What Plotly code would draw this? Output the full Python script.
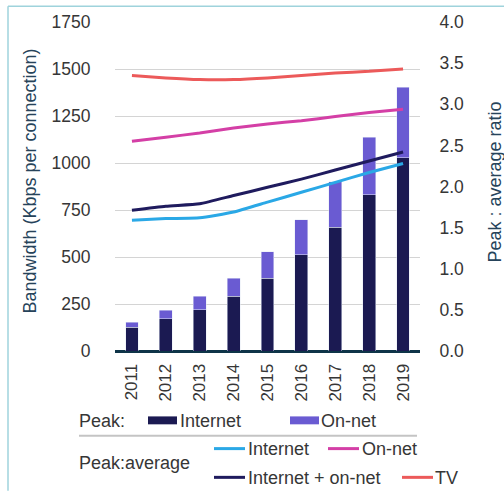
import plotly.graph_objects as go

years = ["2011", "2012", "2013", "2014", "2015", "2016", "2017", "2018", "2019"]
peak_internet = [126, 172, 220, 291, 388, 511, 659, 831, 1029]
peak_total = [154, 218, 290, 388, 527, 699, 901, 1138, 1403]
peak_onnet = [t - i for t, i in zip(peak_total, peak_internet)]

ratio_internet = [1.59, 1.61, 1.62, 1.69, 1.81, 1.93, 2.05, 2.17, 2.28]
ratio_onnet = [2.55, 2.60, 2.65, 2.71, 2.76, 2.80, 2.85, 2.90, 2.94]
ratio_combined = [1.71, 1.76, 1.79, 1.89, 1.99, 2.09, 2.20, 2.31, 2.42]
ratio_tv = [3.35, 3.32, 3.30, 3.30, 3.32, 3.35, 3.38, 3.40, 3.43]

left_ticks = [0, 250, 500, 750, 1000, 1250, 1500, 1750]
right_ticks = [0.0, 0.5, 1.0, 1.5, 2.0, 2.5, 3.0, 3.5, 4.0]

C_INT = "#1b1a52"
C_ONNET = "#6a5bd2"
C_L_INT = "#2aa8e6"
C_L_ONNET = "#d43fa6"
C_L_COMB = "#1f1b5e"
C_L_TV = "#ec5a5a"
FONT = "Liberation Sans, Arial, sans-serif"
TXT = "#363636"
TITLE = "#26435a"

W, H = 504, 492
L, R, T, B = 115, 84, 19, 141
PW, PH = W - L - R, H - T - B


def px(x):
    return (x - L) / PW


def py(y):
    return (H - B - y) / PH


fig = go.Figure()
fig.add_bar(x=years, y=peak_internet, marker_color=C_INT, name="Internet", showlegend=False)
fig.add_bar(x=years, y=peak_onnet, marker_color=C_ONNET, name="On-net", showlegend=False)

for vals, col in [(ratio_tv, C_L_TV), (ratio_onnet, C_L_ONNET),
                  (ratio_combined, C_L_COMB), (ratio_internet, C_L_INT)]:
    fig.add_scatter(x=years, y=vals, yaxis="y2", mode="lines",
                    line=dict(color=col, width=3, shape="spline", smoothing=0.5),
                    showlegend=False)

fig.update_layout(
    width=W, height=H,
    margin=dict(l=L, r=R, t=T, b=B, pad=0),
    paper_bgcolor="white", plot_bgcolor="white",
    barmode="stack", bargap=0.62,
    font=dict(family=FONT, size=17, color=TXT),
    xaxis=dict(type="category", range=[-0.5, 8.5], tickangle=-90,
               showgrid=False, ticks="outside", ticklen=5, tickcolor="rgba(0,0,0,0)",
               tickfont=dict(size=17, color=TXT), showline=False),
    yaxis=dict(range=[0, 1750], tickvals=left_ticks, showgrid=True,
               gridcolor="#d4d4d4", gridwidth=1, zeroline=True,
               zerolinecolor="#0e3448", zerolinewidth=3,
               ticks="outside", ticklen=20, tickcolor="rgba(0,0,0,0)",
               tickfont=dict(size=17.5, color=TXT)),
    yaxis2=dict(range=[0, 4.0], tickvals=right_ticks, tickformat=".1f",
                overlaying="y", side="right", showgrid=False, zeroline=False,
                ticks="outside", ticklen=15, tickcolor="rgba(0,0,0,0)",
                tickfont=dict(size=17.5, color=TXT)),
    showlegend=False,
)

ann = []
shapes = []

# axis titles
ann.append(dict(x=px(30), y=py(180), xref="paper", yref="paper", text="Bandwidth (Kbps per connection)",
                textangle=-90, showarrow=False, font=dict(size=18, color=TITLE),
                xanchor="center", yanchor="middle"))
ann.append(dict(x=px(495), y=py(181), xref="paper", yref="paper", text="Peak : average ratio",
                textangle=-90, showarrow=False, font=dict(size=18, color=TITLE),
                xanchor="center", yanchor="middle"))

# legend
def text(x, y, s):
    ann.append(dict(x=px(x), y=py(y), xref="paper", yref="paper", text=s, showarrow=False,
                    xanchor="left", yanchor="middle", font=dict(size=18, color=TXT)))


def rect(x0, x1, y0, y1, col):
    shapes.append(dict(type="rect", xref="paper", yref="paper", x0=px(x0), x1=px(x1),
                       y0=py(y0), y1=py(y1), fillcolor=col, line=dict(width=0)))


def hline(x0, x1, y, col, w):
    shapes.append(dict(type="line", xref="paper", yref="paper", x0=px(x0), x1=px(x1),
                       y0=py(y), y1=py(y), line=dict(color=col, width=w)))


text(77, 422, "Peak:")
rect(148, 177, 417, 425, C_INT)
text(178, 422, "Internet")
rect(290, 319, 417, 425, C_ONNET)
text(319, 422, "On-net")
hline(79, 417, 436.5, "#c4c4c4", 2)
text(77, 464, "Peak:average")
hline(214, 245, 449.5, C_L_INT, 3)
text(246, 450, "Internet")
hline(328, 359, 449.5, C_L_ONNET, 3)
text(360, 450, "On-net")
hline(214, 245, 478.5, C_L_COMB, 3)
text(246, 479, "Internet + on-net")
hline(402, 433, 478.5, C_L_TV, 3)
text(433, 479, "TV")

# frame border
shapes.append(dict(type="line", xref="paper", yref="paper", x0=px(8), x1=px(8), y0=py(3), y1=py(492),
                   line=dict(color="#9fd3dc", width=1.5)))
shapes.append(dict(type="line", xref="paper", yref="paper", x0=px(8), x1=px(504), y0=py(3), y1=py(3),
                   line=dict(color="#9fd3dc", width=1.5)))

fig.update_layout(annotations=ann, shapes=shapes)
fig.write_html("out.html", config={"displayModeBar": False},
               post_script="document.body.style.margin='0';document.body.style.overflow='hidden';")
